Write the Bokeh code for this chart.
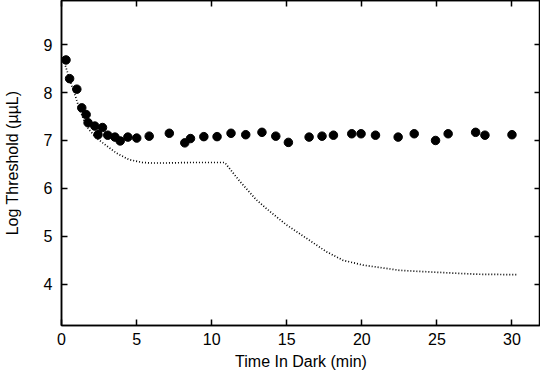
from bokeh.plotting import figure
from bokeh.models import LinearAxis, Range1d, FixedTicker, CustomJSTickFormatter
from bokeh.embed import file_html
from bokeh.resources import INLINE

# Data
dot_x = [0.3, 0.54, 1.02, 1.35, 1.64, 1.77, 2.22, 2.43, 2.73, 3.08, 3.56, 3.91, 4.42,
         5.01, 5.84, 7.18, 8.21, 8.59, 9.48, 10.36, 11.29, 12.27, 13.35, 14.27, 15.11,
         16.49, 17.35, 18.11, 19.33, 19.95, 20.91, 22.42, 23.49, 24.91, 25.75, 27.58,
         28.2, 30.0]
dot_y = [8.68, 8.29, 8.07, 7.68, 7.54, 7.37, 7.30, 7.12, 7.27, 7.11, 7.07, 6.99, 7.07,
         7.05, 7.09, 7.15, 6.95, 7.04, 7.08, 7.08, 7.15, 7.12, 7.17, 7.09, 6.96,
         7.07, 7.09, 7.11, 7.14, 7.14, 7.11, 7.07, 7.14, 7.00, 7.14, 7.17,
         7.11, 7.12]

curve_x = [0.2, 0.6, 0.9, 1.2, 1.5, 1.8, 2.3, 2.87, 3.64, 4.5, 5.4, 6.0,
           7.0, 8.5, 10.0, 10.87, 11.87, 12.98, 13.87, 14.98, 16.31, 17.64, 18.75,
           20.09, 22.53, 24.98, 27.64, 30.3]
curve_y = [8.62, 8.22, 7.95, 7.65, 7.42, 7.24, 7.06, 6.92, 6.74, 6.6, 6.54, 6.53,
           6.53, 6.54, 6.54, 6.54, 6.15, 5.76, 5.52, 5.24, 4.96, 4.68, 4.50,
           4.40, 4.29, 4.25, 4.21, 4.20]

x_ticks = [0, 5, 10, 15, 20, 25, 30]
y_ticks = [4, 5, 6, 7, 8, 9]

FONT = "Liberation Sans"

p = figure(width=540, height=372, output_backend="svg", toolbar_location=None,
           x_range=Range1d(0, 31.9), y_range=Range1d(3.14, 9.92),
           min_border_left=54, min_border_right=0, min_border_top=0,
           min_border_bottom=30)
p.xgrid.visible = False
p.ygrid.visible = False
p.outline_line_color = "black"
p.outline_line_width = 1.5

p.line(curve_x, curve_y, line_color="black", line_width=1.7, line_dash="1 2")
p.scatter(dot_x, dot_y, size=8.5, fill_color="black", line_color="black")

def style(ax, labels=True):
    ax.axis_line_color = "black"
    ax.axis_line_width = 1.5
    ax.major_tick_in = 6
    ax.major_tick_out = 0
    ax.major_tick_line_color = "black"
    ax.major_tick_line_width = 1.5
    ax.minor_tick_line_color = None
    ax.major_label_text_font = FONT
    ax.major_label_text_font_size = "16px"
    ax.major_label_text_color = "black"
    ax.axis_label_text_font = FONT
    ax.axis_label_text_font_size = "16px"
    ax.axis_label_text_font_style = "normal"
    ax.axis_label_text_color = "black"
    if not labels:
        ax.formatter = CustomJSTickFormatter(code="return ''")
        ax.major_label_text_font_size = "1px"
        ax.major_label_standoff = 0

p.xaxis.ticker = FixedTicker(ticks=x_ticks)
p.yaxis.ticker = FixedTicker(ticks=y_ticks)
style(p.xaxis[0])
style(p.yaxis[0])
p.xaxis.axis_label = "Time In Dark (min)"
p.yaxis.axis_label = "Log Threshold (\u00b5\u00b5L)"
p.xaxis.major_label_standoff = 7
p.yaxis.major_label_standoff = 9
p.xaxis.axis_label_standoff = 5
p.yaxis.axis_label_standoff = 20

top = LinearAxis(ticker=FixedTicker(ticks=x_ticks))
right = LinearAxis(ticker=FixedTicker(ticks=y_ticks))
style(top, labels=False)
style(right, labels=False)
p.add_layout(top, "above")
p.add_layout(right, "right")

open("out.html", "w").write(file_html(p, INLINE))
